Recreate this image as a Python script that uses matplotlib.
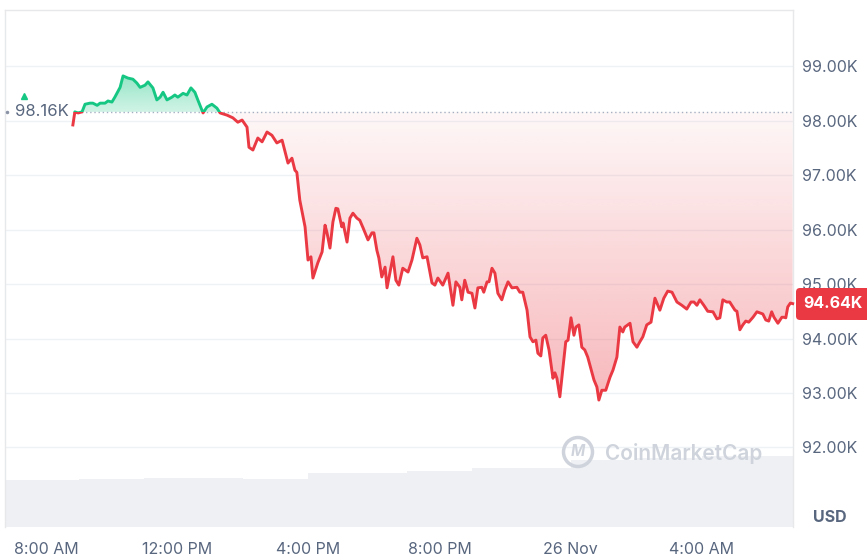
#!/usr/bin/env python3
"""
plot.py - BTC/USD 24h price chart (CoinMarketCap style)
"""

import matplotlib
matplotlib.use("Agg")
import matplotlib.pyplot as plt
import numpy as np
from matplotlib.colors import to_rgb
from matplotlib.path import Path
from matplotlib.patches import Rectangle, FancyBboxPatch, Circle

# price line: hours since midnight 25 Nov, price in thousands USD
hours = [8.82, 8.88, 8.98, 9.10, 9.19, 9.34, 9.43, 9.56, 9.65, 9.80,
         9.89, 10.01, 10.10, 10.26, 10.35, 10.50, 10.65, 10.77, 10.87, 11.02,
         11.11, 11.26, 11.38, 11.48, 11.57, 11.69, 11.84, 11.93, 12.02, 12.18,
         12.30, 12.42, 12.54, 12.63, 12.79, 12.91, 13.06, 13.21, 13.31, 13.52,
         13.70, 13.85, 13.98, 14.13, 14.19, 14.31, 14.46, 14.59, 14.74, 14.89,
         15.04, 15.20, 15.38, 15.50, 15.59, 15.65, 15.74, 15.84, 15.90, 15.99,
         16.08, 16.14, 16.29, 16.42, 16.51, 16.57, 16.66, 16.75, 16.84, 16.90,
         17.02, 17.06, 17.18, 17.27, 17.36, 17.48, 17.57, 17.67, 17.82, 17.94,
         18.00, 18.09, 18.15, 18.24, 18.34, 18.40, 18.58, 18.67, 18.76, 18.88,
         19.04, 19.16, 19.31, 19.40, 19.49, 19.62, 19.77, 19.86, 19.95, 20.10,
         20.26, 20.41, 20.50, 20.62, 20.68, 20.77, 20.87, 20.99, 21.08, 21.17,
         21.29, 21.35, 21.45, 21.51, 21.60, 21.69, 21.78, 21.90, 21.99, 22.09,
         22.21, 22.36, 22.45, 22.54, 22.67, 22.76, 22.85, 22.94, 23.00, 23.09,
         23.15, 23.24, 23.34, 23.46, 23.52, 23.58, 23.67, 23.85, 23.92, 24.01,
         24.10, 24.16, 24.25, 24.34, 24.43, 24.52, 24.71, 24.80, 24.86, 24.95,
         25.07, 25.20, 25.29, 25.41, 25.50, 25.59, 25.65, 25.81, 25.90, 26.02,
         26.11, 26.20, 26.32, 26.45, 26.57, 26.72, 26.84, 26.96, 27.09, 27.24,
         27.39, 27.54, 27.67, 27.76, 27.85, 27.94, 28.06, 28.18, 28.34, 28.46,
         28.55, 28.64, 28.76, 28.85, 29.01, 29.07, 29.16, 29.25, 29.34, 29.43,
         29.56, 29.68, 29.77, 29.86, 29.95, 30.04, 30.13, 30.20, 30.32, 30.44,
         30.50, 30.56, 30.62, 30.70, 30.77]
price_k = [97.92, 98.16, 98.14, 98.16, 98.30, 98.32, 98.32, 98.28, 98.32, 98.32,
           98.36, 98.34, 98.43, 98.61, 98.82, 98.78, 98.76, 98.69, 98.61, 98.65,
           98.71, 98.60, 98.38, 98.43, 98.52, 98.38, 98.43, 98.47, 98.43, 98.50,
           98.47, 98.60, 98.52, 98.38, 98.14, 98.25, 98.30, 98.23, 98.14, 98.10,
           98.05, 97.97, 98.01, 97.88, 97.51, 97.46, 97.68, 97.61, 97.79, 97.73,
           97.59, 97.64, 97.22, 97.31, 97.09, 97.05, 96.54, 96.23, 96.05, 95.44,
           95.50, 95.11, 95.39, 95.59, 96.08, 95.94, 95.66, 96.14, 96.39, 96.38,
           96.05, 96.12, 95.77, 96.21, 96.30, 96.21, 96.17, 96.03, 95.81, 95.94,
           95.94, 95.62, 95.48, 95.13, 95.31, 94.93, 95.50, 95.07, 94.98, 95.29,
           95.22, 95.44, 95.84, 95.72, 95.48, 95.50, 95.02, 94.98, 95.11, 94.98,
           95.20, 94.61, 95.04, 94.94, 94.71, 95.07, 94.85, 94.83, 94.56, 94.93,
           94.94, 94.85, 95.04, 95.04, 95.29, 95.20, 94.83, 94.71, 94.89, 95.04,
           94.93, 94.94, 94.85, 94.85, 94.52, 94.03, 93.94, 93.97, 93.73, 93.68,
           94.01, 94.06, 93.79, 93.27, 93.37, 93.27, 92.93, 93.94, 93.97, 94.38,
           94.06, 94.21, 94.25, 93.84, 93.79, 93.66, 93.24, 93.11, 92.87, 93.05,
           93.05, 93.29, 93.42, 93.66, 94.21, 94.12, 94.21, 94.28, 93.94, 93.84,
           93.94, 94.03, 94.25, 94.30, 94.74, 94.52, 94.74, 94.87, 94.85, 94.67,
           94.61, 94.54, 94.67, 94.67, 94.61, 94.71, 94.61, 94.50, 94.49, 94.36,
           94.38, 94.71, 94.67, 94.67, 94.52, 94.50, 94.16, 94.25, 94.32, 94.30,
           94.39, 94.49, 94.47, 94.45, 94.34, 94.32, 94.49, 94.39, 94.28, 94.39,
           94.39, 94.38, 94.58, 94.65, 94.64]

open_price = 98.16
last_price = 94.64

# volume strip at the bottom (hour start, 24h volume in USD bn)
vol_hours = [6, 7, 8, 9, 10, 11, 12, 13, 14, 15, 16, 17, 18,
             19, 20, 21, 22, 23, 24, 25, 26, 27, 28, 29, 30]
vol_bn = [49.4, 49.4, 49.4, 50.4, 50.4, 51.5, 51.5, 51.5, 50.4, 50.4, 56.7, 56.7, 56.7,
          58.8, 58.8, 62.0, 62.0, 62.0, 70.4, 70.4, 72.5, 72.5, 74.6, 74.6, 74.6]

y_ticks = [92, 93, 94, 95, 96, 97, 98, 99]
x_ticks = [8, 12, 16, 20, 24, 28]
x_labels = ['8:00 AM', '12:00 PM', '4:00 PM', '8:00 PM', '26 Nov', '4:00 AM']

RED = '#ea3943'
GREEN = '#16c784'
GREY_TXT = '#58667e'
plt.rcParams['font.family'] = ['Inter', 'DejaVu Sans']


def gradient_fill(ax, x, y, base, color, a_top, a_bot, y_top, y_bot, where):
    """Fill between line and base with a vertical alpha gradient"""
    poly = ax.fill_between(x, y, base, where=where, interpolate=True,
                           facecolor='none', linewidth=0)
    path = Path.make_compound_path(*poly.get_paths())
    img = np.zeros((200, 1, 4))
    img[:, :, :3] = to_rgb(color)
    img[:, 0, 3] = np.linspace(a_top, a_bot, 200)
    im = ax.imshow(img, extent=[x.min(), x.max(), y_bot, y_top], origin='upper',
                   aspect='auto', zorder=1, interpolation='bilinear')
    im.set_clip_path(path, ax.transData)


fig = plt.figure(figsize=(8.67, 5.60), dpi=100)
pos = [5 / 867, 1 - 527 / 560, 788 / 867, 517 / 560]
xlim = (6.75, 30.78)
ylim = (90.54, 100.03)

# volume behind everything
axv = fig.add_axes(pos)
axv.bar(np.array(vol_hours) + 0.5, vol_bn, width=1.0, color='#eef0f4', linewidth=0)
axv.set_xlim(xlim)
axv.set_ylim(0, 543)
axv.axis('off')

ax = fig.add_axes(pos, facecolor='none')
t = np.array(hours)
p = np.array(price_k)

gradient_fill(ax, t, p, open_price, RED, 0.04, 0.36, open_price, p.min(), p <= open_price)
gradient_fill(ax, t, p, open_price, GREEN, 0.45, 0.2, p.max(), open_price, p >= open_price)

line_up, = ax.plot(t, p, color=GREEN, lw=2.1, zorder=3, solid_joinstyle='round')
line_dn, = ax.plot(t, p, color=RED, lw=2.1, zorder=3, solid_joinstyle='round')
line_up.set_clip_path(Rectangle((xlim[0], open_price), 30, 10, transform=ax.transData))
line_dn.set_clip_path(Rectangle((xlim[0], open_price - 10), 30, 10, transform=ax.transData))

ax.hlines(open_price, t[0], xlim[1], colors='#a6b0c3', linestyles=(0, (1, 2)), lw=1, zorder=2)
ax.text(7.86, open_price, f'{open_price:.2f}K', ha='center', va='center',
        color=GREY_TXT, fontsize=12, zorder=4)
ax.plot([7.33], [98.46], marker='^', color=GREEN, markersize=5, zorder=4)
ax.plot([6.81], [open_price], marker='o', color='#8a94a6', markersize=1.5, zorder=4)

for yv in y_ticks:
    ax.axhline(yv, color='#eff2f5', lw=1, zorder=0)

ax.set_xlim(xlim)
ax.set_ylim(ylim)
ax.yaxis.tick_right()
ax.set_yticks(y_ticks)
ax.set_yticklabels([f'{v:.2f}K' for v in y_ticks])
ax.set_xticks(x_ticks)
ax.set_xticklabels(x_labels)
ax.tick_params(axis='y', length=0, pad=6.5, labelsize=11.5, labelcolor=GREY_TXT)
ax.tick_params(axis='x', length=0, pad=11, labelsize=11.5, labelcolor=GREY_TXT)
for side in ['top', 'left', 'right']:
    ax.spines[side].set_color('#e6e8ea')
    ax.spines[side].set_linewidth(1)
ax.spines['bottom'].set_visible(False)

# last price tag
tag = FancyBboxPatch((7.96, 2.40), 0.75, 0.32, boxstyle='round,pad=0,rounding_size=0.04',
                     transform=fig.dpi_scale_trans, facecolor=RED, edgecolor='none', zorder=5)
fig.patches.append(tag)
fig.text(8.03 / 8.67, 2.56 / 5.60, f'{last_price:.2f}K', ha='left', va='center',
         color='white', fontsize=11.5, fontweight='bold', zorder=6)

fig.text(830 / 867, 1 - 518 / 560, 'USD', ha='center', va='center',
         color=GREY_TXT, fontsize=11.5, fontweight='bold')

# watermark
wm = '#cfd4dc'
logo = Circle((5.78, 1.08), 0.145, transform=fig.dpi_scale_trans, facecolor='none',
              edgecolor=wm, linewidth=2.5, zorder=2)
fig.patches.append(logo)
fig.text(5.78 / 8.67, 1.08 / 5.60, 'M', ha='center', va='center', color=wm,
         fontsize=11, fontweight='bold', style='italic')
fig.text(605 / 867, 1 - 453 / 560, 'CoinMarketCap', ha='left', va='center',
         color=wm, fontsize=15, fontweight='semibold')

fig.savefig('out.png', dpi=100)
